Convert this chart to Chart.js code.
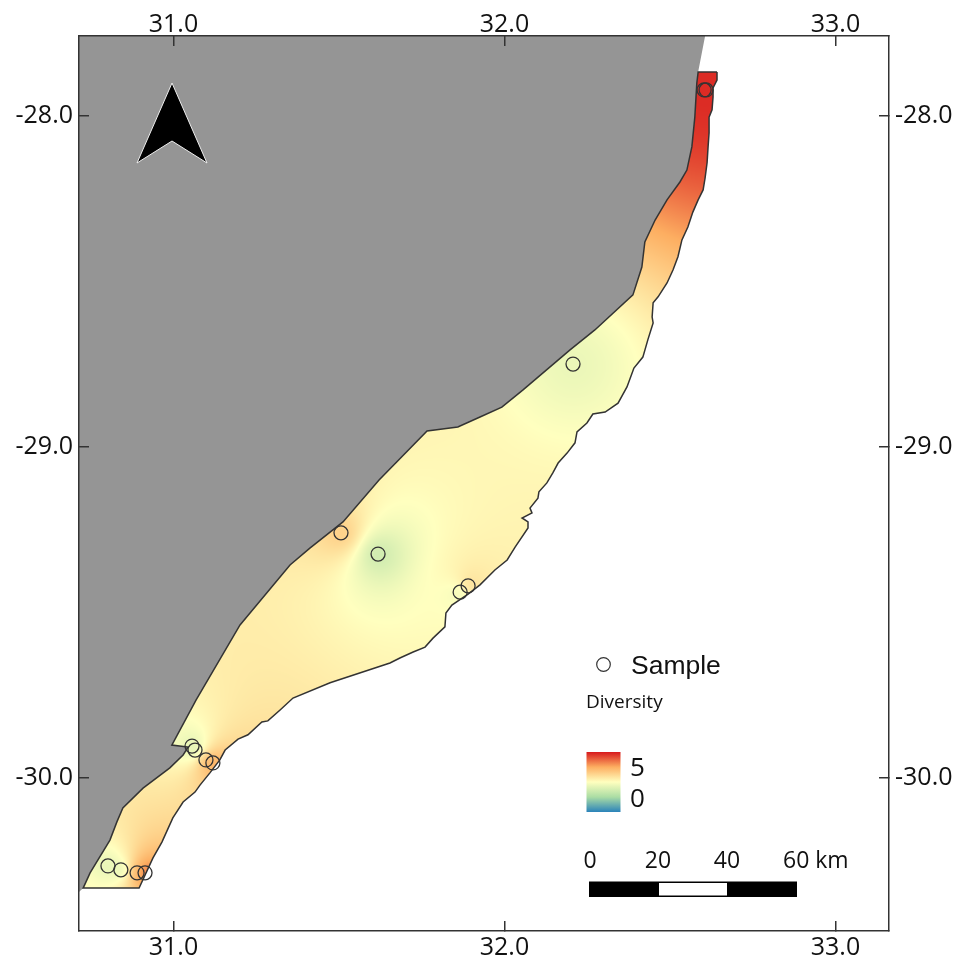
<!DOCTYPE html>
<html>
<head>
<meta charset="utf-8">
<style>html,body{margin:0;padding:0;background:#fff}canvas{display:block}</style>
<script src="https://cdn.jsdelivr.net/npm/chart.js@4"></script>
</head>
<body>
<canvas id="c" width="968" height="957"></canvas>
<script>
const xTicks = [31, 32, 33];
const yTicks = [-28, -29, -30];
const xBounds = [30.7145, 33.1616];
const yBounds = [-30.4637, -27.76];

// Seaward coast, north to south
const eastLon = [32.642,32.642,32.630,32.630,32.627,32.618,32.618,32.615,32.612,32.606,32.600,32.585,32.569,32.554,32.536,32.524,32.509,32.491,32.464,32.449,32.446,32.449,32.433,32.418,32.391,32.370,32.343,32.304,32.267,32.249,32.219,32.213,32.189,32.162,32.146,32.128,32.104,32.101,32.077,32.083,32.053,32.071,32.071,32.032,32.008,31.971,31.926,31.890,31.841,31.823,31.820,31.784,31.760,31.724,31.684,31.654,31.473,31.361,31.322,31.285,31.267,31.225,31.195,31.156,31.140,31.110,31.080,31.065,31.029,30.998,30.965,30.938,30.896,30.727];
const eastLat = [-27.869,-27.893,-27.917,-27.944,-27.983,-28.005,-28.053,-28.095,-28.143,-28.189,-28.225,-28.255,-28.292,-28.337,-28.376,-28.427,-28.467,-28.506,-28.548,-28.566,-28.609,-28.627,-28.678,-28.730,-28.763,-28.820,-28.869,-28.896,-28.902,-28.929,-28.956,-28.989,-29.020,-29.050,-29.080,-29.110,-29.137,-29.156,-29.186,-29.201,-29.216,-29.228,-29.246,-29.304,-29.343,-29.373,-29.418,-29.446,-29.479,-29.503,-29.545,-29.579,-29.606,-29.621,-29.639,-29.654,-29.714,-29.760,-29.796,-29.829,-29.832,-29.871,-29.884,-29.917,-29.947,-29.986,-30.023,-30.044,-30.074,-30.122,-30.195,-30.243,-30.334,-30.334];
// Landward boundary, south to north
const westLon = [30.748,30.808,30.829,30.847,30.908,30.989,31.029,31.044,30.995,31.068,31.201,31.352,31.412,31.512,31.621,31.766,31.859,31.926,31.992,32.056,32.198,32.273,32.388,32.415,32.424,32.455,32.491,32.530,32.551,32.566,32.575,32.581,32.585];
const westLat = [-30.288,-30.189,-30.134,-30.092,-30.032,-29.971,-29.932,-29.908,-29.902,-29.766,-29.539,-29.358,-29.307,-29.228,-29.101,-28.953,-28.941,-28.911,-28.881,-28.829,-28.708,-28.648,-28.542,-28.458,-28.382,-28.316,-28.255,-28.201,-28.165,-28.095,-28.005,-27.902,-27.869];
// Land corners beyond the study area
const landStartLon = [30.7145, 32.606];
const landStartLat = [-27.76, -27.76];
const landEndLon = [30.727, 30.7145];
const landEndLat = [-30.334, -30.346];

// Samples and their diversity
const sampleLon = [32.603,32.609,32.207,31.506,31.618,31.866,31.890,31.056,31.065,31.098,31.119,30.802,30.841,30.890,30.914];
const sampleLat = [-27.923,-27.923,-28.751,-29.261,-29.325,-29.440,-29.421,-29.905,-29.917,-29.947,-29.956,-30.267,-30.279,-30.288,-30.288];
const sampleDiv = [7.2,7.2,1.9,4.0,1.0,1.8,3.8,1.6,1.0,4.8,5.4,1.6,1.2,4.6,6.8];

const rampStops = ['#d7191c','#fdae61','#ffffbf','#abdda4','#2b83ba'];
const rampTop = 7.5, rampBottom = -2.5;

const scaleLabels = ['0','20','40','60 km'];
const colorLegendLabels = ['5','0'];

const TEXT = '#111';
const LINE = '#333';
const FONT = '"Open Sans","Noto Sans",sans-serif';

function hexRgb(h){return [1,3,5].map(i=>parseInt(h.substr(i,2),16));}
const rampRgb = rampStops.map(hexRgb);
function rampColor(v){
  let t=(rampTop-v)/(rampTop-rampBottom)*(rampRgb.length-1);
  t=Math.max(0,Math.min(rampRgb.length-1.0001,t));
  const i=Math.floor(t),f=t-i,a=rampRgb[i],b=rampRgb[i+1];
  return [a[0]+(b[0]-a[0])*f,a[1]+(b[1]-a[1])*f,a[2]+(b[2]-a[2])*f];
}

let surfacePattern=null;
function buildSurface(chart){
  if(surfacePattern) return;
  const xs=chart.scales.x, ys=chart.scales.y;
  const W=chart.width,H=chart.height;
  const off=document.createElement('canvas');off.width=W;off.height=H;
  const c=off.getContext('2d');const img=c.createImageData(W,H);
  const px=sampleLon.map(v=>xs.getPixelForValue(v));
  const py=sampleLat.map(v=>ys.getPixelForValue(v));
  for(let y=0;y<H;y++)for(let x=0;x<W;x++){
    let sw=0,sv=0;
    for(let k=0;k<px.length;k++){
      const dx=x-px[k],dy=y-py[k];
      const w=1/(dx*dx+dy*dy+70);
      sw+=w;sv+=w*sampleDiv[k];
    }
    const col=rampColor(sv/sw);const o=(y*W+x)*4;
    img.data[o]=col[0];img.data[o+1]=col[1];img.data[o+2]=col[2];img.data[o+3]=255;
  }
  c.putImageData(img,0,0);
  surfacePattern=chart.ctx.createPattern(off,'no-repeat');
}

const zip=(a,b)=>a.map((v,i)=>({x:v,y:b[i]}));
const westRev=zip(westLon,westLat).reverse();
const zonePts=[...zip(eastLon,eastLat),...zip(westLon,westLat),{x:eastLon[0],y:eastLat[0]}];
const landPts=[...zip(landStartLon,landStartLat),...westRev,...zip(landEndLon,landEndLat),{x:landStartLon[0],y:landStartLat[0]}];

const overlay={
  id:'overlay',
  afterLayout(chart){buildSurface(chart);},
  afterDraw(chart){
    const g=chart.ctx;g.save();
    // north arrow
    g.beginPath();g.moveTo(172,83);g.lineTo(207,163);g.lineTo(172,141);g.lineTo(137,163);g.closePath();
    g.fillStyle='#000';g.fill();g.strokeStyle='#eee';g.lineWidth=1;g.stroke();
    // sample legend
    g.beginPath();g.arc(603.5,664.5,6.8,0,Math.PI*2);g.strokeStyle=LINE;g.lineWidth=1.2;g.stroke();
    g.fillStyle=TEXT;g.textBaseline='alphabetic';g.textAlign='left';
    g.font='26.5px "Liberation Sans",Arial,sans-serif';g.fillText('Sample',631,674);
    g.font='19px '+FONT;g.fillText('Diversity',586,708);
    // ramp
    const r=g.createLinearGradient(0,752,0,812);
    rampStops.forEach((s,i)=>r.addColorStop(i/(rampStops.length-1),s));
    g.fillStyle=r;g.fillRect(586.5,752,34,60);
    g.fillStyle=TEXT;g.font='26px '+FONT;
    g.fillText(colorLegendLabels[0],630,776);g.fillText(colorLegendLabels[1],630,807);
    // scale bar
    const bar=[589,659,727,797];
    g.fillStyle='#000';g.fillRect(bar[0],881.5,bar[3]-bar[0],15.5);
    g.fillStyle='#fff';g.fillRect(bar[1],883,bar[2]-bar[1],12.5);
    g.fillStyle=TEXT;g.font='23px '+FONT;
    g.textAlign='center';
    g.fillText(scaleLabels[0],590,868);g.fillText(scaleLabels[1],658,868);g.fillText(scaleLabels[2],727,868);
    g.textAlign='left';g.fillText(scaleLabels[3],783,868);
    g.restore();
  }
};

function axis(position,axisId,bounds,ticks,fitSize,pad){
  const horizontal=position==='top'||position==='bottom';
  return {
    type:'linear',position,axis:axisId,min:bounds[0],max:bounds[1],
    afterBuildTicks(s){s.ticks=ticks.map(v=>({value:v}));},
    afterFit(s){
      if(horizontal)s.height=fitSize;else s.width=fitSize;
      s.paddingTop=s.paddingBottom=s.paddingLeft=s.paddingRight=0;
    },
    grid:{display:true,drawOnChartArea:false,drawTicks:true,tickLength:-10,color:LINE,lineWidth:1.5,z:1},
    border:{display:true,color:LINE,width:1.5,z:1},
    ticks:{autoSkip:false,maxRotation:0,padding:pad,color:TEXT,font:{family:FONT,size:25},
      callback:v=>Number(v).toFixed(1)}
  };
}

new Chart(document.getElementById('c'),{
  type:'scatter',
  data:{datasets:[
    {label:'Sample',data:zip(sampleLon,sampleLat),order:0,showLine:false,pointRadius:7,
     pointBackgroundColor:'rgba(0,0,0,0)',pointBorderColor:LINE,pointBorderWidth:1.3},
    {label:'Diversity',data:zonePts,order:1,showLine:true,tension:0,pointRadius:0,borderColor:LINE,borderWidth:1.5,
     fill:'shape',backgroundColor:()=>surfacePattern||'rgba(0,0,0,0)'},
    {label:'Land',data:landPts,order:2,showLine:true,tension:0,pointRadius:0,borderColor:'#959595',borderWidth:0,
     fill:'shape',backgroundColor:'#959595'}
  ]},
  options:{
    responsive:false,animation:false,
    layout:{padding:0},
    plugins:{legend:{display:false},tooltip:{enabled:false},filler:{propagate:false}},
    scales:{
      x:axis('bottom','x',xBounds,xTicks,26,12),
      x2:axis('top','x',xBounds,xTicks,36,6),
      y:axis('left','y',yBounds,yTicks,79,16),
      y2:axis('right','y',yBounds,yTicks,79,16)
    }
  },
  plugins:[overlay]
});
</script>
</body>
</html>
